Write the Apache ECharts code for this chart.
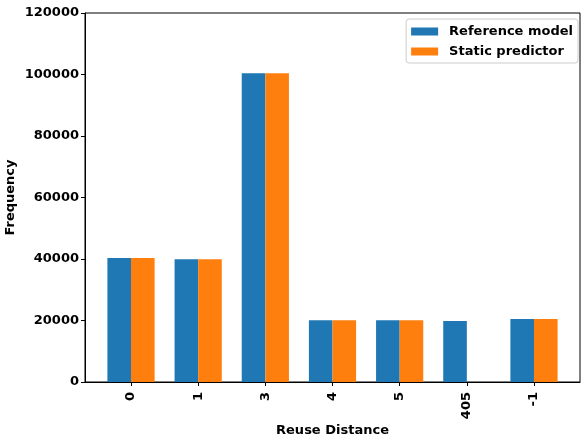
<!DOCTYPE html>
<html><head><meta charset="utf-8">
<script src="https://cdn.jsdelivr.net/npm/echarts@6/dist/echarts.min.js"></script>
<style>html,body{margin:0;padding:0;background:#fff}#c{width:582px;height:442px}</style>
</head><body><div id="c"></div>
<script>
var categories = ['0','1','3','4','5','405','-1'];
var referenceModel = [40300, 39900, 100400, 20100, 20100, 19800, 20500];
var staticPredictor = [40300, 39900, 100400, 20100, 20100, 0, 20500];
var yTicks = [0, 20000, 40000, 60000, 80000, 100000, 120000];

var font = 'DejaVu Sans';
var idx = categories.map(function(_, i){ return i; });
var chart = echarts.init(document.getElementById('c'));
chart.setOption({
  animation: false,
  backgroundColor: '#fff',
  textStyle: {fontFamily: font},
  grid: {left: 85, right: 2, top: 13, bottom: 60, containLabel: false, outerBoundsMode: 'none',
         show: true, borderColor: '#000', borderWidth: 1, backgroundColor: 'transparent'},
  legend: {
    right: 4, top: 19, orient: 'vertical', icon: 'rect', itemWidth: 27, itemHeight: 8, itemGap: 7,
    padding: [6, 5, 5, 5], borderColor: '#ccc', borderWidth: 1, borderRadius: 3,
    textStyle: {fontFamily: font, fontWeight: 'bold', fontSize: 13, color: '#000', padding: [0, 0, 0, 6]},
    data: ['Reference model', 'Static predictor']
  },
  xAxis: {
    type: 'value', min: -0.685, max: 6.685,
    name: 'Reuse Distance', nameLocation: 'middle', nameGap: 42, nameMoveOverlap: false,
    nameTextStyle: {fontFamily: font, fontWeight: 'bold', fontSize: 13, color: '#000'},
    axisLine: {show: true, onZero: false, lineStyle: {color: '#000', width: 1}},
    axisTick: {show: true, customValues: idx, length: 4, lineStyle: {color: '#000'}},
    splitLine: {show: false},
    axisLabel: {customValues: idx, rotate: 90, margin: 10, fontFamily: font, fontWeight: 'bold', fontSize: 13, color: '#000',
      formatter: function(v){ return categories[Math.round(v)]; }}
  },
  yAxis: {
    type: 'value', min: 0, max: 120000, interval: 20000,
    name: 'Frequency', nameLocation: 'middle', nameGap: 68, nameRotate: 90, nameMoveOverlap: false,
    nameTextStyle: {fontFamily: font, fontWeight: 'bold', fontSize: 13, color: '#000'},
    axisLine: {show: true, onZero: false, lineStyle: {color: '#000', width: 1}},
    axisTick: {show: true, length: 4, lineStyle: {color: '#000'}},
    splitLine: {show: false},
    axisLabel: {margin: 6, fontFamily: font, fontWeight: 'bold', fontSize: 13, color: '#000',
      formatter: function(v){ return String(v); }}
  },
  series: [
    {name: 'Reference model', type: 'bar', barWidth: 23.6, barGap: 0,
     itemStyle: {color: '#1f77b4', borderWidth: 0},
     data: referenceModel.map(function(v, i){ return [i, v]; })},
    {name: 'Static predictor', type: 'bar', barWidth: 23.6, barGap: 0,
     itemStyle: {color: '#ff7f0e', borderWidth: 0},
     data: staticPredictor.map(function(v, i){ return [i, v]; })}
  ]
});
</script></body></html>
